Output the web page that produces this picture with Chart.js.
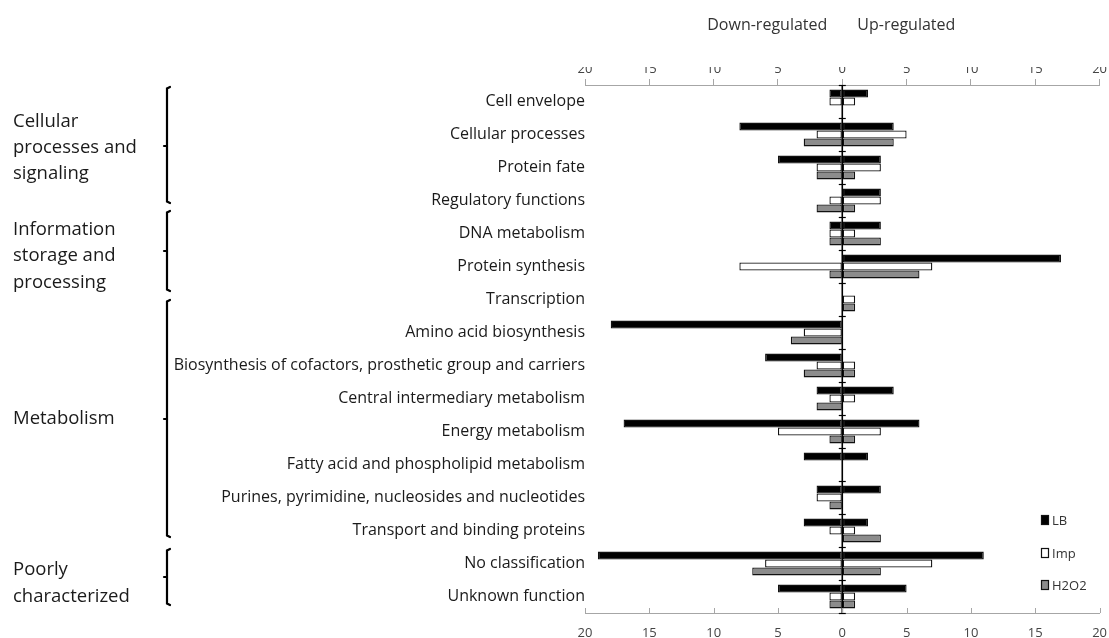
<!DOCTYPE html>
<html>
<head>
<meta charset="utf-8">
<script src="https://cdn.jsdelivr.net/npm/chart.js@4.4.1/dist/chart.umd.min.js"></script>
<style>
  html, body { margin: 0; padding: 0; background: #fff; }
  #wrap { width: 1109px; height: 638px; position: relative; }
</style>
</head>
<body>
<div id="wrap"><canvas id="c" width="1109" height="638"></canvas></div>
<script>
// ---- data ----
const categories = [
  "Cell envelope", "Cellular processes", "Protein fate", "Regulatory functions",
  "DNA metabolism", "Protein synthesis", "Transcription",
  "Amino acid biosynthesis", "Biosynthesis of cofactors, prosthetic group and carriers",
  "Central intermediary metabolism", "Energy metabolism", "Fatty acid and phospholipid metabolism",
  "Purines, pyrimidine, nucleosides and nucleotides", "Transport and binding proteins",
  "No classification", "Unknown function"
];
const lbDown   = [-1, -8, -5,  0, -1,  0, 0, -18, -6, -2, -17, -3, -2, -3, -19, -5];
const lbUp     = [ 2,  4,  3,  3,  3, 17, 0,   0,  0,  4,   6,  2,  3,  2,  11,  5];
const impDown  = [-1, -2, -2, -1, -1, -8, 0,  -3, -2, -1,  -5,  0, -2, -1,  -6, -1];
const impUp    = [ 1,  5,  3,  3,  1,  7, 1,   0,  1,  1,   3,  0,  0,  1,   7,  1];
const h2o2Down = [ 0, -3, -2, -2, -1, -1, 0,  -4, -3, -2,  -1,  0, -1,  0,  -7, -1];
const h2o2Up   = [ 0,  4,  1,  1,  3,  6, 1,   0,  1,  0,   1,  0,  0,  3,   3,  1];
const seriesNames = ["LB", "Imp", "H2O2"];
const axisTicks = [-20, -15, -10, -5, 0, 5, 10, 15, 20];
const groups = [
  { lines: ["Cellular", "processes and", "signaling"], first: 0, last: 3 },
  { lines: ["Information", "storage and", "processing"], first: 4, last: 6 },
  { lines: ["Metabolism"], first: 7, last: 13 },
  { lines: ["Poorly", "characterized"], first: 14, last: 15 }
];

// ---- styles ----
const FONT = "'Open Sans', 'Liberation Sans', sans-serif";
const fills = { LB: "#000000", Imp: "#ffffff", H2O2: "#8c8c8c" };
const nz = a => a.map(v => (v === 0 ? null : v));

function ds(name, arr) {
  return {
    label: name, data: nz(arr), stack: name,
    backgroundColor: fills[name], borderColor: "#111111", borderWidth: 1.3,
    borderSkipped: false, barPercentage: 1.0, categoryPercentage: 0.72
  };
}

// group label layout (text lines y, brace y-range/nub)
const groupLayout = [
  { ys: [122, 148, 174], brace: [87, 203, 146] },
  { ys: [230, 256, 283], brace: [211, 291, 251] },
  { ys: [419], brace: [300, 537, 419] },
  { ys: [570, 597], brace: [549, 605, 577] }
];

const decor = {
  id: "decor",
  afterDatasetsDraw(chart) {
    const ctx = chart.ctx;
    const xs = chart.scales.x;
    const area = chart.chartArea;
    const x0 = xs.getPixelForValue(0);
    ctx.save();
    // zero axis with cross ticks at category boundaries
    ctx.strokeStyle = "#000"; ctx.lineWidth = 1.6;
    ctx.beginPath(); ctx.moveTo(x0, area.top); ctx.lineTo(x0, area.bottom); ctx.stroke();
    ctx.lineWidth = 1.2;
    const n = categories.length, h = (area.bottom - area.top) / n;
    for (let i = 0; i <= n; i++) {
      const y = Math.round(area.top + i * h) + 0.5;
      ctx.beginPath(); ctx.moveTo(x0 - 3.5, y); ctx.lineTo(x0 + 3.5, y); ctx.stroke();
    }
    // bottom axis inward ticks
    ctx.strokeStyle = "#a6a6a6"; ctx.lineWidth = 1;
    axisTicks.forEach(t => {
      const px = Math.round(xs.getPixelForValue(t)) + 0.5;
      ctx.beginPath(); ctx.moveTo(px, area.bottom); ctx.lineTo(px, area.bottom - 5); ctx.stroke();
    });
    // header
    ctx.fillStyle = "#333"; ctx.font = "16px " + FONT; ctx.textBaseline = "middle";
    ctx.textAlign = "right"; ctx.fillText("Down-regulated", x0 - 15, 25);
    ctx.textAlign = "left"; ctx.fillText("Up-regulated", x0 + 15, 25);
    // group labels and braces
    ctx.fillStyle = "#1a1a1a"; ctx.font = "18.5px " + FONT; ctx.textAlign = "left";
    groups.forEach((g, gi) => {
      const L = groupLayout[gi];
      g.lines.forEach((t, k) => ctx.fillText(t, 13, L.ys[k]));
      const [b1, b2, nub] = L.brace, bx = 167;
      ctx.strokeStyle = "#000"; ctx.lineWidth = 2.2; ctx.lineCap = "round";
      ctx.beginPath();
      ctx.moveTo(bx + 3, b1); ctx.lineTo(bx, b1 + 1.5); ctx.lineTo(bx, b2 - 1.5); ctx.lineTo(bx + 3, b2);
      ctx.stroke();
      ctx.beginPath(); ctx.moveTo(bx - 3, nub); ctx.lineTo(bx, nub); ctx.stroke();
    });
    // legend
    ctx.font = "13px " + FONT; ctx.textAlign = "left";
    const legY = [520, 553, 585];
    seriesNames.forEach((s, i) => {
      ctx.fillStyle = fills[s]; ctx.strokeStyle = "#111"; ctx.lineWidth = 1.2;
      ctx.fillRect(1041.5, legY[i] - 4.5, 7, 9);
      ctx.strokeRect(1041.5, legY[i] - 4.5, 7, 9);
      ctx.fillStyle = "#333";
      ctx.fillText(s, 1052, legY[i] + 1);
    });
    ctx.restore();
  }
};

const tickFont = { family: FONT, size: 13 };
new Chart(document.getElementById("c"), {
  type: "bar",
  data: {
    labels: categories,
    datasets: [
      ds("LB", lbDown), ds("LB", lbUp),
      ds("Imp", impDown), ds("Imp", impUp),
      ds("H2O2", h2o2Down), ds("H2O2", h2o2Up)
    ]
  },
  options: {
    indexAxis: "y",
    responsive: false,
    animation: false,
    layout: { padding: { top: 67, bottom: 0, left: 0, right: 0 } },
    plugins: { legend: { display: false }, tooltip: { enabled: false } },
    scales: {
      x: {
        type: "linear", position: "bottom", stacked: true, min: -20, max: 20,
        afterBuildTicks: s => { s.ticks = axisTicks.map(v => ({ value: v })); },
        ticks: { callback: v => Math.abs(v), font: tickFont, color: "#444", padding: 2, maxRotation: 0 },
        grid: { drawOnChartArea: false, drawTicks: true, tickLength: 10, tickColor: "rgba(0,0,0,0)" },
        border: { color: "#a6a6a6", width: 1 },
        afterFit: s => { s.height = 25; }
      },
      x2: {
        type: "linear", position: "top", min: -20, max: 20,
        afterBuildTicks: s => { s.ticks = axisTicks.map(v => ({ value: v })); },
        ticks: { callback: v => Math.abs(v), font: tickFont, color: "#444", padding: 2, maxRotation: 0 },
        grid: { drawOnChartArea: false, drawTicks: true, tickLength: 6, color: "#a6a6a6" },
        border: { color: "#a6a6a6", width: 1 },
        afterFit: s => { s.height = 18; }
      },
      y: {
        type: "category", stacked: true, offset: true,
        grid: { display: false, drawTicks: false },
        border: { display: false },
        ticks: { font: { family: FONT, size: 16 }, color: "#1a1a1a", padding: 0, autoSkip: false },
        afterFit: s => { s.width = 585; }
      }
    }
  },
  plugins: [decor]
});
</script>
</body>
</html>
